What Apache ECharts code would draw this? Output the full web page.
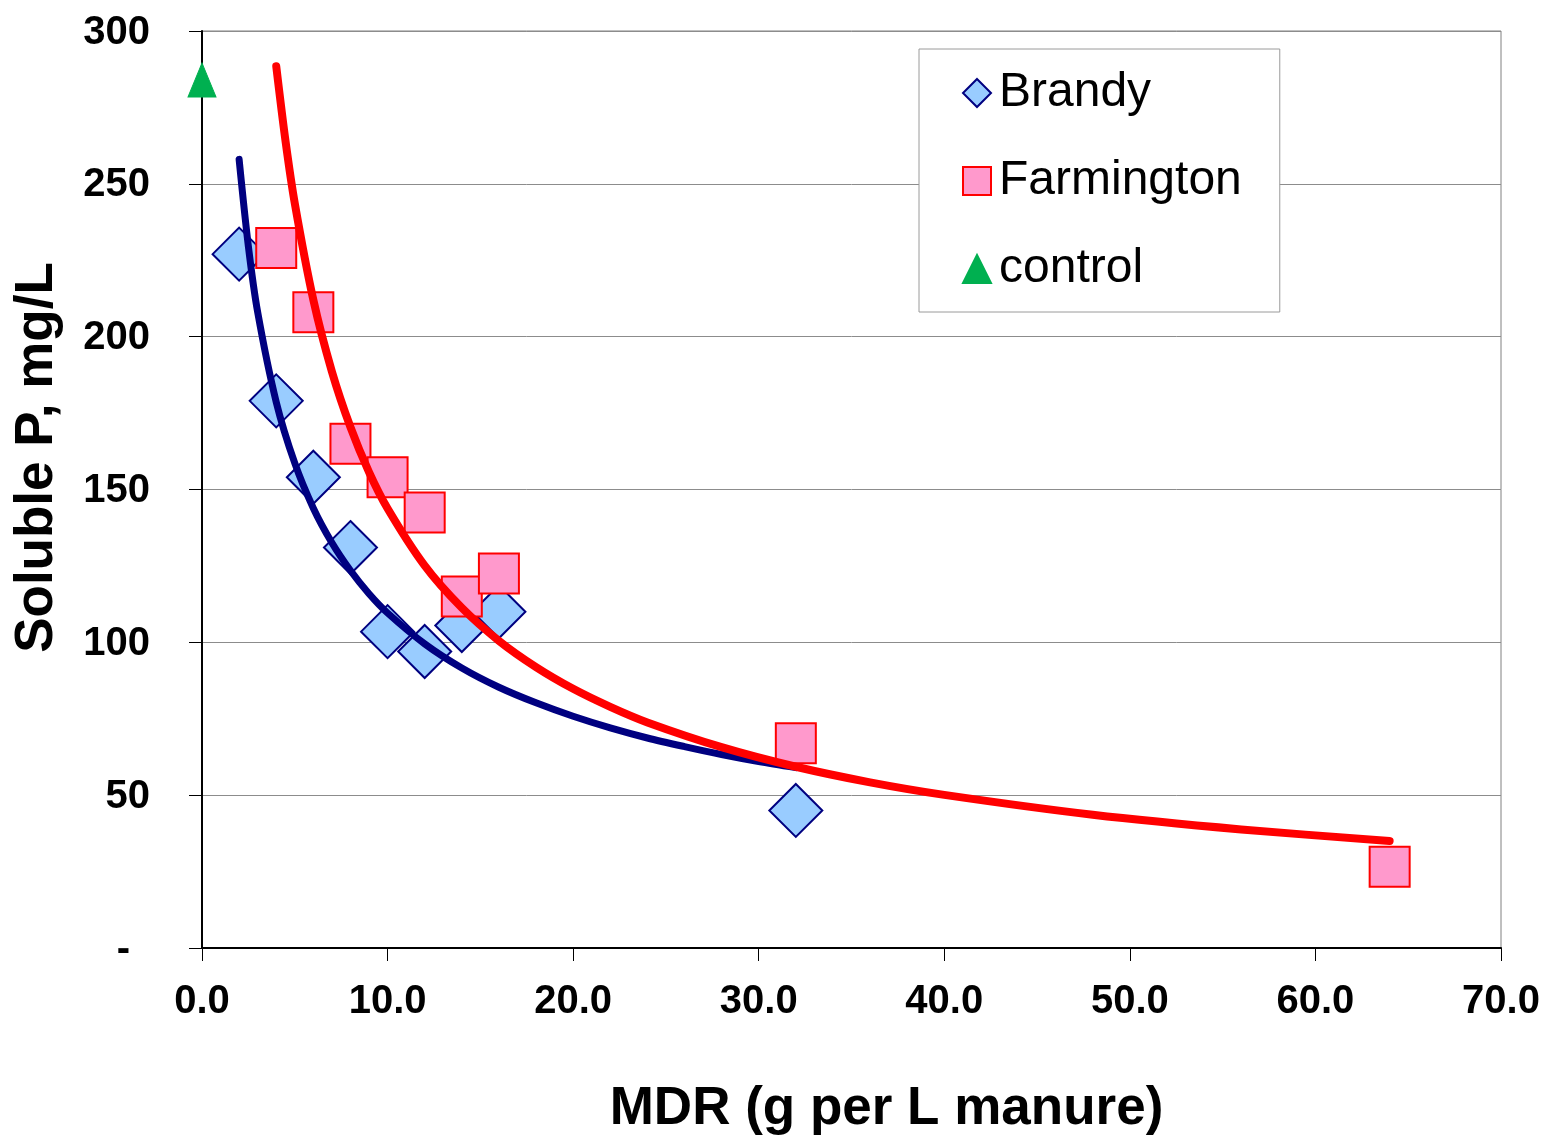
<!DOCTYPE html>
<html>
<head>
<meta charset="utf-8">
<script src="https://cdn.jsdelivr.net/npm/echarts@6/dist/echarts.min.js"></script>
<style>
  html, body { margin: 0; padding: 0; background: #fff; }
  #chart { width: 1548px; height: 1139px; }
</style>
</head>
<body>
<div id="chart"></div>
<script>
// ---- data ----
const brandyX = [2, 4, 6, 8, 10, 12, 14, 16, 32];
const brandyY = [227, 179, 154, 131, 103.5, 97, 105.5, 110, 45];

const farmX = [4, 6, 8, 10, 12, 14, 16, 32, 64];
const farmY = [229, 208, 165, 154, 142.5, 115, 122.5, 67, 26.6];

const controlX = [0];
const controlY = [284];

// trend curves, values
const brandyTrendX = [2, 2.5, 3, 4, 5, 6, 7, 8, 9, 10, 12, 14, 16, 18, 20, 22, 24, 26, 28, 30, 32];
const brandyTrendY = [258, 229.5, 208, 178.6, 158.6, 143.9, 132.6, 123.5, 115.9, 109.6, 99.5, 91.6, 85.3, 80.2, 75.8, 72.0, 68.7, 65.9, 63.3, 61.0, 59.0];

const farmTrendX = [4, 4.5, 5, 6, 7, 8, 9, 10, 12, 14, 16, 18, 20, 22, 24, 28, 32, 36, 40, 48, 56, 64];
const farmTrendY = [288.5, 264, 243.6, 212, 188.6, 170.4, 155.7, 143.8, 125.1, 111.3, 100.5, 91.9, 84.8, 78.9, 73.8, 65.7, 59.3, 54.2, 50.1, 43.6, 38.8, 35.0];

const xTicks = { min: 0, max: 70, step: 10 };
const yTicks = { min: 0, max: 300, step: 50 };

const pairs = (xs, ys) => xs.map((x, i) => [x, ys[i]]);

const FONT = "'Liberation Sans', Arial, sans-serif";

const chart = echarts.init(document.getElementById('chart'), null, { renderer: 'canvas' });

chart.setOption({
  backgroundColor: '#ffffff',
  animation: false,
  grid: {
    left: 202, right: 47, top: 31, bottom: 191,
    outerBoundsMode: 'none',
    containLabel: false,
    show: true, borderColor: '#808080', borderWidth: 1, backgroundColor: 'transparent'
  },
  legend: {
    data: ['Brandy', 'Farmington', 'control'],
    orient: 'vertical',
    left: 919, top: 49,
    padding: [19, 38, 18, 43],
    itemGap: 38,
    itemWidth: 28, itemHeight: 28,
    borderColor: '#9a9a9a', borderWidth: 1,
    backgroundColor: '#ffffff',
    textStyle: { fontFamily: FONT, fontSize: 48, color: '#000', lineHeight: 50, padding: [0, 0, 0, 3] }
  },
  xAxis: {
    type: 'value',
    min: xTicks.min, max: xTicks.max, interval: xTicks.step,
    name: 'MDR (g per L manure)',
    nameLocation: 'middle',
    nameGap: 135,
    nameTextStyle: {
      fontFamily: FONT, fontSize: 53, fontWeight: 'bold', color: '#000',
      lineHeight: 53, padding: [0, 0, 0, 70]
    },
    axisLine: { show: true, onZero: false, lineStyle: { color: '#000', width: 2 } },
    axisTick: { show: true, length: 13, lineStyle: { color: '#000', width: 1 } },
    axisLabel: {
      margin: 34,
      fontFamily: FONT, fontSize: 40, fontWeight: 'bold', color: '#000',
      formatter: v => v.toFixed(1)
    },
    splitLine: { show: false }
  },
  yAxis: {
    type: 'value',
    min: yTicks.min, max: yTicks.max, interval: yTicks.step,
    name: 'Soluble P, mg/L',
    nameLocation: 'middle',
    nameGap: 138,
    nameRotate: 90,
    nameTextStyle: {
      fontFamily: FONT, fontSize: 53, fontWeight: 'bold', color: '#000',
      lineHeight: 53, padding: [0, 0, 0, 64]
    },
    axisLine: { show: true, onZero: false, lineStyle: { color: '#000', width: 2 } },
    axisTick: { show: true, length: 13, lineStyle: { color: '#000', width: 1 } },
    axisLabel: {
      margin: 52,
      fontFamily: FONT, fontSize: 40, fontWeight: 'bold', color: '#000',
      padding: [3, 0, 0, 0],
      formatter: v => (v === 0 ? '{d|-}' : String(v)),
      rich: {
        d: { fontFamily: FONT, fontSize: 40, fontWeight: 'bold', color: '#000', padding: [0, 20, 0, 0] }
      }
    },
    splitLine: { show: true, lineStyle: { color: '#8c8c8c', width: 1 } }
  },
  series: [
    {
      name: 'Brandy',
      type: 'scatter',
      data: pairs(brandyX, brandyY),
      symbol: 'diamond',
      symbolSize: 53,
      clip: false,
      z: 2,
      itemStyle: { color: '#99CCFF', borderColor: '#000080', borderWidth: 2, opacity: 1 }
    },
    {
      name: 'Farmington',
      type: 'scatter',
      data: pairs(farmX, farmY),
      symbol: 'rect',
      symbolSize: 40,
      clip: false,
      z: 3,
      itemStyle: { color: '#FF99CC', borderColor: '#FF0000', borderWidth: 2, opacity: 1 }
    },
    {
      name: 'control',
      type: 'scatter',
      data: pairs(controlX, controlY),
      symbol: 'triangle',
      symbolSize: [28, 34],
      clip: false,
      z: 3,
      itemStyle: { color: '#00B050', borderColor: '#00B050', borderWidth: 1, opacity: 1 }
    },
    {
      name: 'Brandy trend',
      type: 'line',
      data: pairs(brandyTrendX, brandyTrendY),
      smooth: 0.3,
      showSymbol: false,
      symbol: 'none',
      z: 4,
      lineStyle: { color: '#000080', width: 7, cap: 'round', join: 'round' }
    },
    {
      name: 'Farmington trend',
      type: 'line',
      data: pairs(farmTrendX, farmTrendY),
      smooth: 0.3,
      showSymbol: false,
      symbol: 'none',
      z: 5,
      lineStyle: { color: '#FF0000', width: 8, cap: 'round', join: 'round' }
    }
  ]
});
</script>
</body>
</html>
